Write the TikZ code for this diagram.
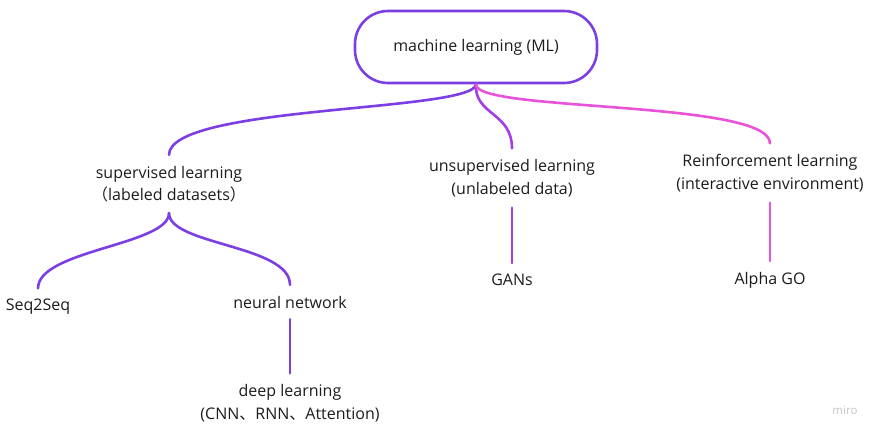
\documentclass[tikz,border=0pt]{standalone}
\usepackage{fontspec}
\setmainfont{Open Sans}
\newfontfamily\cjk{Noto Sans CJK SC}
\definecolor{mlviolet}{HTML}{7B3FE4}
\definecolor{mlpurple}{HTML}{A33EE6}
\definecolor{mlpink}{HTML}{E853D8}
\definecolor{mltext}{HTML}{1C1C1E}
\begin{document}
\begin{tikzpicture}[x=1pt,y=-1pt]

  \tikzset{topic/.style={inner sep=0pt, outer ysep=11pt, align=center, text=mltext,
      font=\fontsize{16}{22.5}\selectfont}}
  \tikzset{branch/.style={line width=2.6pt, line cap=round}}

  \useasboundingbox (0,0) rectangle (871,431);

  \node[draw=mlviolet, line width=2.6pt, rounded corners=33pt, minimum width=242pt,
    minimum height=72pt, text=mltext, font=\fontsize{16}{22.5}\selectfont] (ML) at (476,47) {machine learning (ML)};

  \node[topic] (SL) at (169,184) {supervised learning\\{\cjk （}labeled datasets{\cjk ）}};
  \node[topic] (UL) at (512,178) {unsupervised learning\\(unlabeled data)};
  \node[topic] (RL) at (770,173) {Reinforcement learning\\(interactive environment)};

  \node[topic] (S2S) at (38,307) {Seq2Seq};
  \node[topic] (NN) at (290,302) {neural network};
  \node[topic] (DL) at (290,403) {deep learning\\(CNN{\cjk 、}RNN{\cjk 、}Attention)};
  \node[topic] (GAN) at (512,280) {GANs};
  \node[topic] (AGO) at (770,280) {Alpha GO};

  \node[text=gray!45, font=\fontsize{11.5}{13}\selectfont] (miro) at (845,410) {miro};

  \draw[branch, mlviolet] (ML.south) .. controls (474,112) and (169,105) .. (SL.north);
  \draw[branch, mlpurple] (ML.south) .. controls (474,115) and (512,112) .. (UL.north);
  \draw[branch, mlpink] (ML.south) .. controls (474,112) and (770,100) .. (RL.north);

  \draw[branch, mlviolet] (SL.south) .. controls (169,245) and (38,250) .. (S2S.north);
  \draw[branch, mlviolet] (SL.south) .. controls (169,245) and (290,245) .. (NN.north);
  \draw[branch, mlviolet] (NN) -- (DL);
  \draw[branch, mlpurple] (UL) -- (GAN);
  \draw[branch, mlpink] (RL) -- (AGO);

\end{tikzpicture}
\end{document}
